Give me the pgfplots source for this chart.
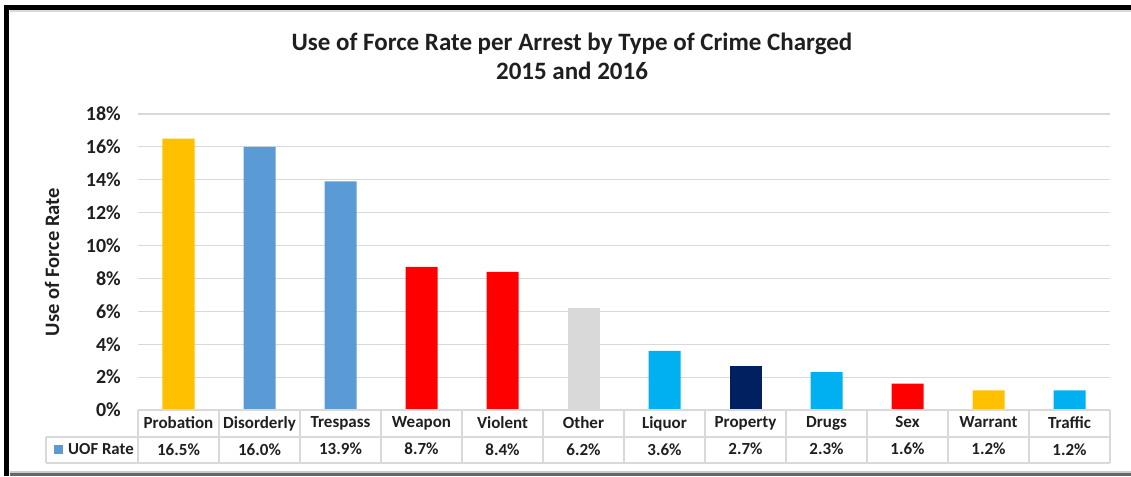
\documentclass[border=0pt]{standalone}
\usepackage{pgfplots}
\pgfplotsset{compat=1.18}
\usepackage{fontspec}
\setmainfont{Carlito}
\definecolor{cgold}{HTML}{FFC000}
\definecolor{csteel}{HTML}{5B9BD5}
\definecolor{cred}{HTML}{FF0000}
\definecolor{clgray}{HTML}{D9D9D9}
\definecolor{csky}{HTML}{00B0F0}
\definecolor{cnavy}{HTML}{002060}
\definecolor{gridc}{HTML}{D9D9D9}
\definecolor{txt}{HTML}{1F1F1F}
\begin{document}
\begin{tikzpicture}[x=1pt,y=1pt]
\useasboundingbox (-138,-66) rectangle (993,410);
\begin{axis}[name=ax, at={(0,0)}, anchor=south west,
  scale only axis, width=972pt, height=296pt,
  xmin=-0.5, xmax=11.5, ymin=0, ymax=18,
  ytick={0,2,...,18}, xtick={0,...,11},
  yticklabel={\pgfmathprintnumber{\tick}\%},
  /pgf/number format/assume math mode=true,
  xticklabels={{Probation\\16.5\%},{Disorderly\\16.0\%},{Trespass\\13.9\%},{Weapon\\8.7\%},{Violent\\8.4\%},{Other\\6.2\%},{Liquor\\3.6\%},{Property\\2.7\%},{Drugs\\2.3\%},{Sex\\1.6\%},{Warrant\\1.2\%},{Traffic\\1.2\%}},
  xticklabel style={font=\fontsize{17}{27}\selectfont\bfseries, align=center, anchor=north, inner sep=0pt, yshift=-6pt, text=txt},
  yticklabel style={font=\fontsize{20}{22}\selectfont\bfseries, anchor=east, inner sep=0pt, xshift=-17pt, text=txt},
  ymajorgrids, grid style={gridc, line width=1.2pt},
  axis line style={draw=none}, major tick length=0pt,
  clip=false]
\addplot[ybar, bar width=32pt, bar shift=0pt, fill=cgold, draw=none] coordinates {(0,16.5) (10,1.2)};
\addplot[ybar, bar width=32pt, bar shift=0pt, fill=csteel, draw=none] coordinates {(1,16.0) (2,13.9)};
\addplot[ybar, bar width=32pt, bar shift=0pt, fill=cred, draw=none] coordinates {(3,8.7) (4,8.4) (9,1.6)};
\addplot[ybar, bar width=32pt, bar shift=0pt, fill=clgray, draw=none] coordinates {(5,6.2)};
\addplot[ybar, bar width=32pt, bar shift=0pt, fill=csky, draw=none] coordinates {(6,3.6) (8,2.3) (11,1.2)};
\addplot[ybar, bar width=32pt, bar shift=0pt, fill=cnavy, draw=none] coordinates {(7,2.7)};
\end{axis}
\begin{scope}[shift={(ax.south west)}]
\draw[gridc, line width=1.2pt] (0,0) -- (972,0);
\draw[gridc, line width=1.2pt] (-92,-27) -- (972,-27);
\draw[gridc, line width=1.2pt] (-92,-53) -- (972,-53);
\foreach \i in {0,...,12} \draw[gridc, line width=1.2pt] (\i*81,0) -- (\i*81,-53);
\draw[gridc, line width=1.2pt] (-92,-27) -- (-92,-53);
\fill[csteel] (-84,-35) rectangle (-75,-44);
\node[anchor=base west, inner sep=0pt, text=txt, font=\fontsize{16.8}{18}\selectfont\bfseries] at (-70,-45) {UOF Rate};
\node[rotate=90, inner sep=0pt, text=txt, font=\fontsize{20.5}{22}\selectfont\bfseries] at (-86,148) {Use of Force Rate};
\node[anchor=base, inner sep=0pt, text=txt, font=\fontsize{25}{28}\selectfont\bfseries] at (434,359) {Use of Force Rate per Arrest by Type of Crime Charged};
\node[anchor=base, inner sep=0pt, text=txt, font=\fontsize{25}{28}\selectfont\bfseries] at (434,330) {2015 and 2016};
\draw[black!15, line width=2pt] (-128,399) -- (993,399);
\draw[black, line width=5pt] (-131,-66) -- (-131,402.5) -- (993,402.5);
\draw[black!20, line width=2pt] (-128,-61.5) -- (993,-61.5);
\draw[black!60, line width=2.5pt] (-128,-64.5) -- (993,-64.5);
\end{scope}
\end{tikzpicture}
\end{document}
